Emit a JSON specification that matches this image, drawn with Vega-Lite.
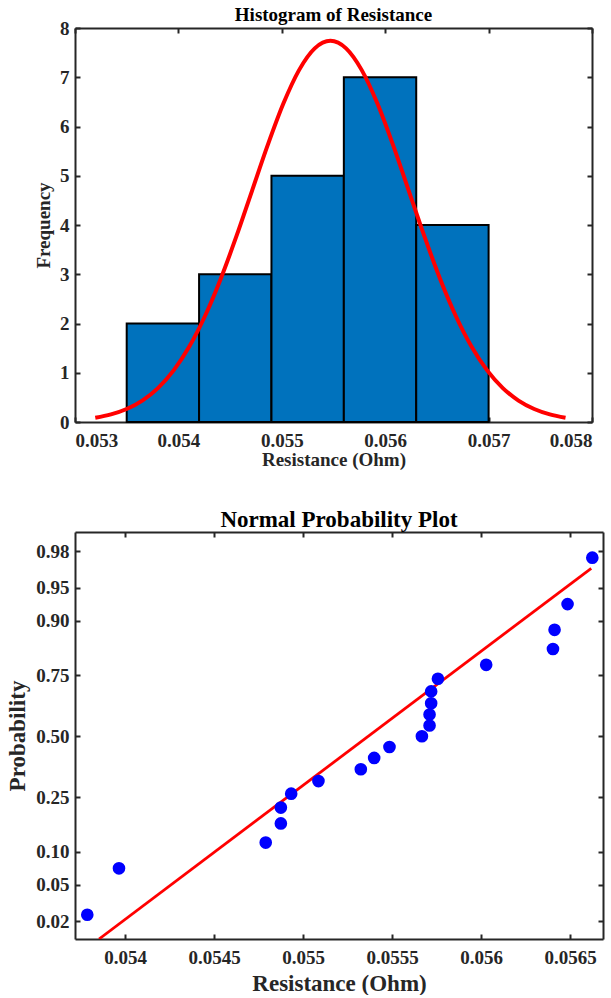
{
  "$schema": "https://vega.github.io/schema/vega-lite/v6.json",
  "background": "white",
  "padding": {"left": 6, "top": 6, "right": 4, "bottom": 0},
  "datasets": {
    "bins": [
      {"bin_start": 0.0535, "bin_end": 0.0542, "count": 2},
      {"bin_start": 0.0542, "bin_end": 0.0549, "count": 3},
      {"bin_start": 0.0549, "bin_end": 0.0556, "count": 5},
      {"bin_start": 0.0556, "bin_end": 0.0563, "count": 7},
      {"bin_start": 0.0563, "bin_end": 0.0570, "count": 4}
    ],
    "curve": [
      {"resistance": 0.053196, "frequency": 0.0860},
      {"resistance": 0.0533476, "frequency": 0.1536},
      {"resistance": 0.0534992, "frequency": 0.2635},
      {"resistance": 0.0536508, "frequency": 0.4345},
      {"resistance": 0.0538024, "frequency": 0.6883},
      {"resistance": 0.053954, "frequency": 1.0475},
      {"resistance": 0.0541056, "frequency": 1.5317},
      {"resistance": 0.0542572, "frequency": 2.1520},
      {"resistance": 0.0544088, "frequency": 2.9049},
      {"resistance": 0.0545604, "frequency": 3.7675},
      {"resistance": 0.054712, "frequency": 4.6945},
      {"resistance": 0.0548636, "frequency": 5.6204},
      {"resistance": 0.0550152, "frequency": 6.4650},
      {"resistance": 0.0551668, "frequency": 7.1449},
      {"resistance": 0.0553184, "frequency": 7.5867},
      {"resistance": 0.05547, "frequency": 7.74},
      {"resistance": 0.0556216, "frequency": 7.5867},
      {"resistance": 0.0557732, "frequency": 7.1449},
      {"resistance": 0.0559248, "frequency": 6.4650},
      {"resistance": 0.0560764, "frequency": 5.6204},
      {"resistance": 0.056228, "frequency": 4.6945},
      {"resistance": 0.0563796, "frequency": 3.7675},
      {"resistance": 0.0565312, "frequency": 2.9049},
      {"resistance": 0.0566828, "frequency": 2.1520},
      {"resistance": 0.0568344, "frequency": 1.5317},
      {"resistance": 0.056986, "frequency": 1.0475},
      {"resistance": 0.0571376, "frequency": 0.6883},
      {"resistance": 0.0572892, "frequency": 0.4345},
      {"resistance": 0.0574408, "frequency": 0.2635},
      {"resistance": 0.0575924, "frequency": 0.1536},
      {"resistance": 0.057744, "frequency": 0.0860}
    ],
    "points": [
      {"resistance": 0.053788, "probability": 0.0238, "quantile": -1.9805},
      {"resistance": 0.053966, "probability": 0.0714, "quantile": -1.4652},
      {"resistance": 0.054790, "probability": 0.1190, "quantile": -1.1798},
      {"resistance": 0.054875, "probability": 0.1667, "quantile": -0.9674},
      {"resistance": 0.054875, "probability": 0.2143, "quantile": -0.7916},
      {"resistance": 0.054933, "probability": 0.2619, "quantile": -0.6375},
      {"resistance": 0.055086, "probability": 0.3095, "quantile": -0.4972},
      {"resistance": 0.055324, "probability": 0.3571, "quantile": -0.3661},
      {"resistance": 0.055399, "probability": 0.4048, "quantile": -0.2409},
      {"resistance": 0.055485, "probability": 0.4524, "quantile": -0.1194},
      {"resistance": 0.055667, "probability": 0.5000, "quantile": 0},
      {"resistance": 0.055710, "probability": 0.5476, "quantile": 0.1194},
      {"resistance": 0.055710, "probability": 0.5952, "quantile": 0.2409},
      {"resistance": 0.055719, "probability": 0.6429, "quantile": 0.3661},
      {"resistance": 0.055719, "probability": 0.6905, "quantile": 0.4972},
      {"resistance": 0.055757, "probability": 0.7381, "quantile": 0.6375},
      {"resistance": 0.056028, "probability": 0.7857, "quantile": 0.7916},
      {"resistance": 0.056403, "probability": 0.8333, "quantile": 0.9674},
      {"resistance": 0.056412, "probability": 0.8810, "quantile": 1.1798},
      {"resistance": 0.056485, "probability": 0.9286, "quantile": 1.4652},
      {"resistance": 0.056624, "probability": 0.9762, "quantile": 1.9805}
    ],
    "fit": [
      {"resistance": 0.053854, "quantile": -2.249},
      {"resistance": 0.056618, "quantile": 1.862}
    ]
  },
  "config": {
    "view": {"stroke": null},
    "font": "Liberation Serif",
    "axis": {
      "grid": false,
      "domainColor": "#262626",
      "domainWidth": 2,
      "tickColor": "#262626",
      "tickWidth": 2,
      "tickSize": -5,
      "labelFont": "Liberation Serif",
      "labelFontWeight": "bold",
      "labelFontSize": 19,
      "labelColor": "#262626",
      "titleFont": "Liberation Serif",
      "titleFontWeight": "bold",
      "titleColor": "#262626"
    },
    "axisX": {"labelPadding": 14},
    "axisY": {"labelPadding": 11},
    "title": {"font": "Liberation Serif", "fontWeight": "bold", "color": "#000000", "anchor": "middle"}
  },
  "columns": 1,
  "align": {"row": "none", "column": "all"},
  "spacing": 40,
  "concat": [
    {
      "title": {"text": "Histogram of Resistance", "fontSize": 19, "offset": -6},
      "width": 517,
      "height": 394,
      "layer": [
        {
          "data": {"name": "bins"},
          "mark": {"type": "rect", "fill": "#0072BD", "stroke": "#000000", "strokeWidth": 2},
          "encoding": {
            "x": {"field": "bin_start", "type": "quantitative",
                  "scale": {"domain": [0.053, 0.058], "nice": false, "zero": false},
                  "axis": {"orient": "bottom", "values": [0.053, 0.054, 0.055, 0.056, 0.057, 0.058], "format": ".3f",
                           "title": "Resistance (Ohm)", "titleFontSize": 19, "titlePadding": 0}},
            "x2": {"field": "bin_end"},
            "y": {"field": "count", "type": "quantitative",
                  "scale": {"domain": [0, 8], "nice": false},
                  "axis": {"orient": "left", "values": [0, 1, 2, 3, 4, 5, 6, 7, 8],
                           "title": "Frequency", "titleFontSize": 19, "titlePadding": 6}},
            "y2": {"datum": 0}
          }
        },
        {
          "data": {"name": "curve"},
          "mark": {"type": "line", "color": "#FF0000", "strokeWidth": 4, "interpolate": "monotone"},
          "encoding": {
            "x": {"field": "resistance", "type": "quantitative",
                  "axis": {"orient": "top", "values": [0.053, 0.054, 0.055, 0.056, 0.057, 0.058], "labels": false, "title": null}},
            "y": {"field": "frequency", "type": "quantitative",
                  "axis": {"orient": "right", "values": [0, 1, 2, 3, 4, 5, 6, 7, 8], "labels": false, "title": null}}
          }
        }
      ],
      "resolve": {"axis": {"x": "independent", "y": "independent"}}
    },
    {
      "title": {"text": "Normal Probability Plot", "fontSize": 23, "offset": -1},
      "width": 528,
      "height": 407,
      "layer": [
        {
          "data": {"name": "fit"},
          "mark": {"type": "line", "color": "#FF0000", "strokeWidth": 2.8, "clip": true},
          "encoding": {
            "x": {"field": "resistance", "type": "quantitative",
                  "scale": {"domain": [0.053719, 0.056684], "nice": false, "zero": false},
                  "axis": {"orient": "top", "values": [0.054, 0.0545, 0.055, 0.0555, 0.056, 0.0565], "labels": false, "title": null}},
            "y": {"field": "quantile", "type": "quantitative",
                  "scale": {"domain": [-2.249, 2.265], "nice": false, "zero": false},
                  "axis": {"orient": "right", "values": [-2.0537, -1.6449, -1.2816, -0.6745, 0, 0.6745, 1.2816, 1.6449, 2.0537], "labels": false, "title": null}}
          }
        },
        {
          "data": {"name": "points"},
          "mark": {"type": "circle", "size": 160, "color": "#0000FF", "opacity": 1},
          "encoding": {
            "x": {"field": "resistance", "type": "quantitative",
                  "axis": {"orient": "bottom", "values": [0.054, 0.0545, 0.055, 0.0555, 0.056, 0.0565], "format": "~g",
                           "title": "Resistance (Ohm)", "titleFontSize": 23, "titlePadding": 5}},
            "y": {"field": "quantile", "type": "quantitative",
                  "axis": {"orient": "left", "values": [-2.0537, -1.6449, -1.2816, -0.6745, 0, 0.6745, 1.2816, 1.6449, 2.0537],
                           "labelExpr": "format(cumulativeNormal(datum.value), '.2f')",
                           "title": "Probability", "titleFontSize": 23, "titlePadding": 6}}
          }
        }
      ],
      "resolve": {"axis": {"x": "independent", "y": "independent"}}
    }
  ]
}
